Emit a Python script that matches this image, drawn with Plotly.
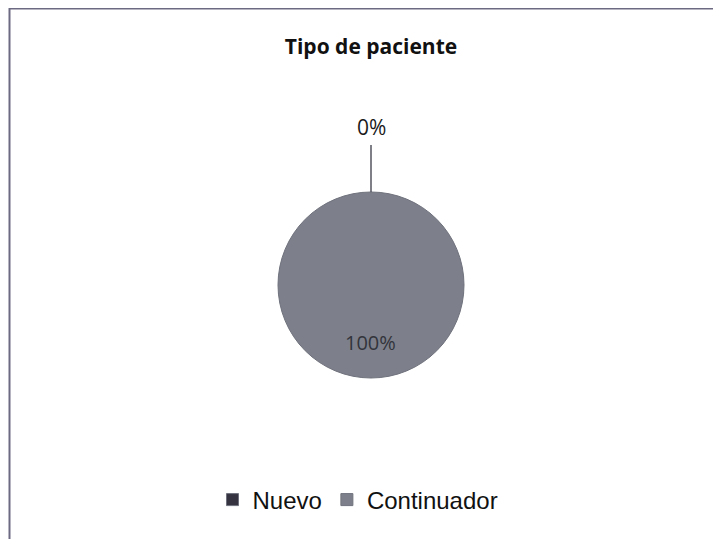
import plotly.graph_objects as go

# data
labels = ['Nuevo', 'Continuador']
values = [0, 100]
colors = ['#34333f', '#7d808a']
title = 'Tipo de paciente'

W, H = 721, 539
OFF = 8  # page body margin in the browser
total = sum(values)
pct = [f'{round(v / total * 100)}%' for v in values]


def px_x(x):
    return (x - OFF) / W


def px_y(y):
    return 1 - (y - OFF) / H


# pie geometry (pixels in the screenshot)
cx, cy, r = 371, 285, 93

fig = go.Figure(go.Pie(
    labels=labels,
    values=values,
    marker=dict(colors=colors, line=dict(color='#6f727c', width=1)),
    textinfo='none',
    sort=False,
    direction='clockwise',
    rotation=0,
    hoverinfo='label+percent',
    domain=dict(x=[px_x(cx - r), px_x(cx + r)], y=[px_y(cy + r), px_y(cy - r)]),
))

# frame of the chart area
fig.add_shape(type='rect', xref='paper', yref='paper',
              x0=px_x(9.5), x1=1.05, y0=-0.05, y1=px_y(8.5),
              line=dict(color='#6c6a82', width=2), fillcolor='rgba(0,0,0,0)')

# leader line for the 0% slice
fig.add_shape(type='line', xref='paper', yref='paper',
              x0=px_x(cx), x1=px_x(cx), y0=px_y(145), y1=px_y(cy - r),
              line=dict(color='#555560', width=1.5))

fig.add_annotation(text=pct[0], x=px_x(cx), y=px_y(127), xref='paper', yref='paper',
                   xanchor='center', yanchor='middle', showarrow=False,
                   font=dict(family='Open Sans', size=21, color='#1a1a1a'))
fig.add_annotation(text=pct[1], x=px_x(cx - 1), y=px_y(342), xref='paper', yref='paper',
                   xanchor='center', yanchor='middle', showarrow=False,
                   font=dict(family='Open Sans', size=20, color='#33343c'))

fig.update_layout(
    width=W, height=H,
    margin=dict(l=0, r=0, t=0, b=0),
    paper_bgcolor='white',
    plot_bgcolor='white',
    title=dict(text=f'<b>{title}</b>', x=px_x(371), xanchor='center', y=px_y(47), yanchor='middle',
               font=dict(family='Open Sans', size=21, color='#111111')),
    showlegend=True,
    legend=dict(orientation='h', x=px_x(358), xanchor='center', y=px_y(500), yanchor='middle',
                font=dict(family='Liberation Sans', size=24, color='#111111'),
                itemwidth=30, traceorder='normal'),
)

fig.write_html('out.html')
